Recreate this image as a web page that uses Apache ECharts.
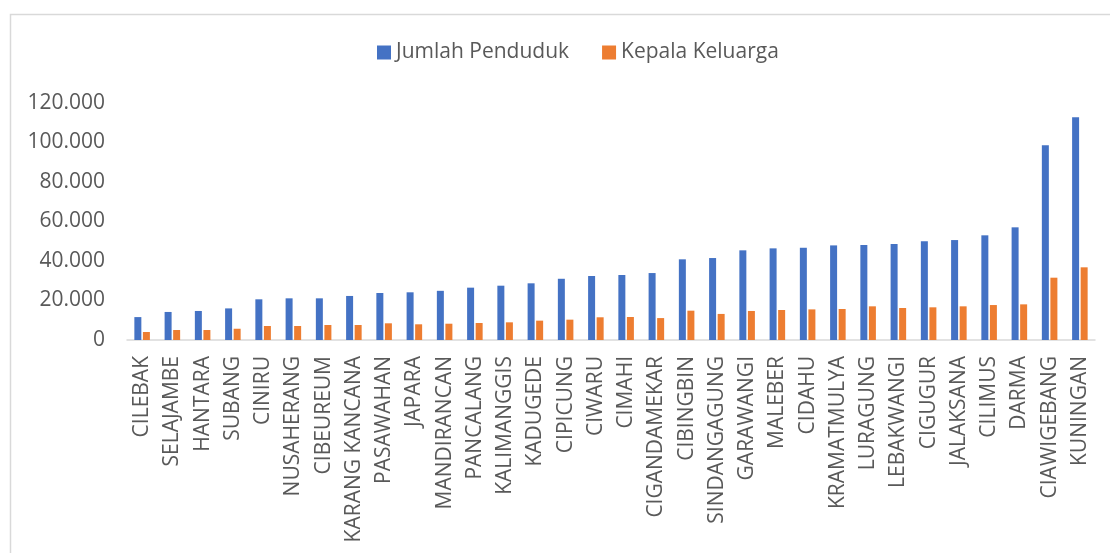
<!DOCTYPE html>
<html>
<head>
<meta charset="utf-8">
<script src="https://cdn.jsdelivr.net/npm/echarts@6/dist/echarts.min.js"></script>
<style>
  html, body { margin: 0; padding: 0; background: #ffffff; }
  #view { width: 1110px; height: 553px; }
</style>
</head>
<body>
<div id="view"></div>
<script>
// kecamatan, sorted by jumlah penduduk
let kecamatan = [
  "CILEBAK", "SELAJAMBE", "HANTARA", "SUBANG", "CINIRU", "NUSAHERANG",
  "CIBEUREUM", "KARANG KANCANA", "PASAWAHAN", "JAPARA", "MANDIRANCAN",
  "PANCALANG", "KALIMANGGIS", "KADUGEDE", "CIPICUNG", "CIWARU", "CIMAHI",
  "CIGANDAMEKAR", "CIBINGBIN", "SINDANGAGUNG", "GARAWANGI", "MALEBER",
  "CIDAHU", "KRAMATMULYA", "LURAGUNG", "LEBAKWANGI", "CIGUGUR", "JALAKSANA",
  "CILIMUS", "DARMA", "CIAWIGEBANG", "KUNINGAN"
];

let jumlahPenduduk = [
  11600, 14200, 14700, 16000, 20600, 21100, 21100, 22300, 23800, 24150, 24900,
  26500, 27500, 28700, 31000, 32400, 32900, 33900, 40850, 41500, 45400, 46400,
  46700, 47900, 48100, 48600, 50000, 50600, 53000, 57050, 98600, 112750
];

let kepalaKeluarga = [
  4050, 5060, 5060, 5700, 7100, 7100, 7600, 7600, 8450, 7950, 8250,
  8600, 8950, 9800, 10300, 11500, 11650, 11100, 14850, 13200, 14700, 15200,
  15500, 15700, 17050, 16200, 16550, 17050, 17700, 18050, 31550, 36800
];

let yTicks = [0, 20000, 40000, 60000, 80000, 100000, 120000];

function formatRibuan(v) {
  return String(v).replace(/\B(?=(\d{3})+(?!\d))/g, ".");
}

let myChart = echarts.init(document.getElementById("view"));

let option = {
  backgroundColor: "#ffffff",
  animation: false,
  textStyle: { fontFamily: "Open Sans" },
  graphic: [
    {
      type: "rect",
      left: 8,
      top: 12,
      shape: { width: 1200, height: 600 },
      style: { fill: "none", stroke: "#d9d9d9", lineWidth: 1.5 },
      silent: true,
    },
  ],
  legend: {
    top: 37,
    left: 372,
    itemWidth: 14,
    itemHeight: 14,
    itemGap: 33,
    icon: "rect",
    textStyle: { fontSize: 21, color: "#595959", fontFamily: "Open Sans" },
    data: ["Jumlah Penduduk", "Kepala Keluarga"],
  },
  grid: {
    left: 127,
    right: 15,
    top: 103,
    bottom: 213,
  },
  xAxis: {
    type: "category",
    data: kecamatan,
    axisLine: { lineStyle: { color: "#d9d9d9", width: 1.5 } },
    axisTick: { show: false },
    axisLabel: {
      rotate: 90,
      interval: 0,
      margin: 16,
      fontSize: 21,
      color: "#595959",
      fontFamily: "Open Sans",
    },
  },
  yAxis: {
    type: "value",
    min: 0,
    max: yTicks[yTicks.length - 1],
    interval: 20000,
    splitLine: { show: false },
    axisLine: { show: false },
    axisTick: { show: false },
    axisLabel: {
      margin: 22,
      fontSize: 21,
      color: "#595959",
      fontFamily: "Open Sans",
      formatter: formatRibuan,
    },
  },
  series: [
    {
      name: "Jumlah Penduduk",
      type: "bar",
      data: jumlahPenduduk,
      barWidth: 7,
      barGap: "22%",
      itemStyle: { color: "#4472c4" },
    },
    {
      name: "Kepala Keluarga",
      type: "bar",
      data: kepalaKeluarga,
      barWidth: 7,
      itemStyle: { color: "#ed7d31" },
    },
  ],
};

myChart.setOption(option);
</script>
</body>
</html>
